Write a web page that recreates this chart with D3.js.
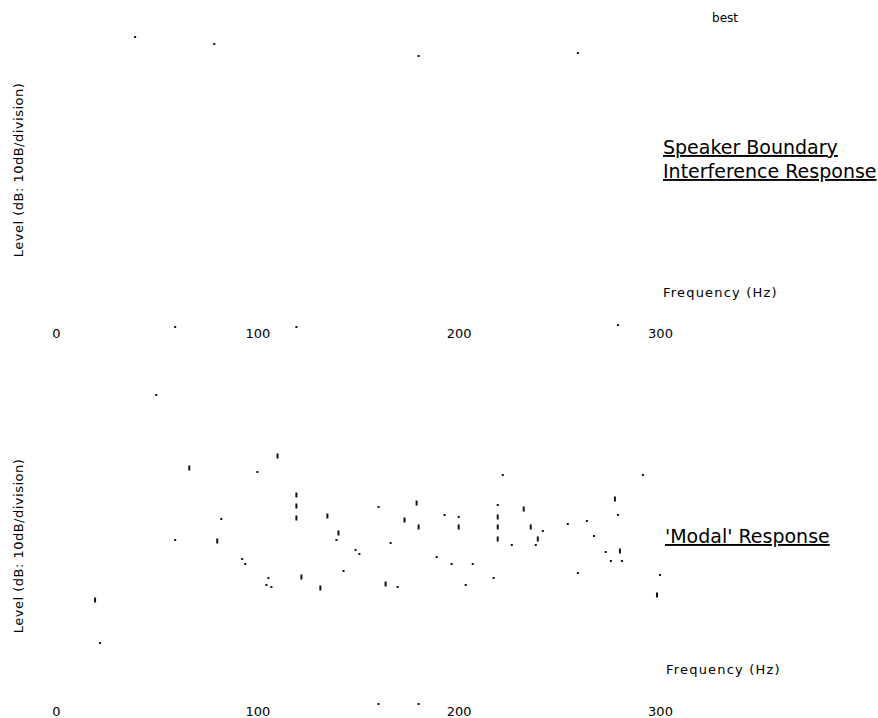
<!DOCTYPE html>
<html>
<head>
<meta charset="utf-8">
<script src="https://cdn.jsdelivr.net/npm/d3@7"></script>
<style>
  html, body { margin: 0; padding: 0; background: #fff; }
  svg { display: block; }
  text { font-family: "DejaVu Sans", Verdana, sans-serif; fill: #000; }
</style>
</head>
<body>
<svg id="chart" width="878" height="718"></svg>
<script>
// ---------- data ----------
const tickValues = [0, 100, 200, 300];
const tickLabels = ["0", "100", "200", "300"];

// Upper panel: Speaker Boundary Interference Response  [Hz, level dB]
const sbirDots = [
  [39.3, 60.6], [78.6, 59.2], [180.1, 56.8], [259.2, 57.4],
  [59.2, 2.6], [119.4, 2.6], [279.1, 3.0]
];

// Lower panel: 'Modal' Response  [Hz, level dB]
const modalDots = [
  [49.8, 63.0], [100.0, 47.6], [82.1, 38.2], [160.2, 40.6], [59.2, 34.0],
  [139.3, 34.0], [92.5, 30.2], [94.0, 29.2], [105.5, 26.4], [104.5, 25.0],
  [107.0, 24.6], [148.8, 32.0], [150.7, 31.2], [142.8, 27.8], [166.2, 33.4],
  [169.7, 24.6], [193.0, 39.0], [200.0, 38.6], [189.1, 30.6], [196.5, 29.2],
  [207.0, 29.2], [203.5, 25.0], [221.9, 47.0], [291.5, 47.0], [219.4, 41.0],
  [226.4, 33.0], [241.8, 35.8], [238.3, 33.0], [217.4, 26.4], [254.2, 37.2],
  [263.7, 37.8], [267.2, 34.8], [259.2, 27.4], [279.1, 39.0], [273.1, 31.6],
  [275.6, 29.8], [281.1, 29.8], [300.0, 27.0], [21.9, 13.4], [160.2, 1.2],
  [180.1, 1.2]
];
const modalDashes = [
  [66.2, 48.4], [110.0, 50.8], [119.4, 43.0], [119.4, 40.8], [119.4, 38.4],
  [134.8, 38.8], [140.3, 35.4], [179.1, 41.4], [173.1, 38.0], [180.1, 36.6],
  [80.1, 33.8], [121.9, 26.6], [131.3, 24.4], [163.7, 25.2], [200.0, 36.6],
  [219.4, 38.6], [219.4, 36.6], [219.4, 34.2], [232.3, 40.2], [235.8, 36.6],
  [239.3, 34.2], [277.6, 42.2], [280.1, 31.8], [298.5, 23.0], [19.4, 22.0]
];

const yLabel = "Level (dB: 10dB/division)";
const xLabel = "Frequency (Hz)";
const topTitle = ["Speaker Boundary", "Interference Response"];
const bottomTitle = "'Modal' Response";
const cornerNote = "best";

// ---------- drawing ----------
const svg = d3.select("#chart");

const x = d3.scaleLinear().domain([0, 300]).range([56, 660]);
const yTop = d3.scaleLinear().domain([0, 70]).range([340, -10]);
const yBot = d3.scaleLinear().domain([0, 70]).range([710, 360]);

function axis(yPos) {
  const g = svg.append("g").attr("transform", `translate(0,${yPos})`)
    .call(d3.axisBottom(x).tickValues(tickValues)
      .tickFormat((d, i) => tickLabels[i]).tickSize(0).tickPadding(0));
  g.select(".domain").remove();
  g.selectAll("text").attr("font-family", "DejaVu Sans, sans-serif")
    .attr("font-size", 13).attr("fill", "#000");
}
axis(329);
axis(707);

function dots(data, y) {
  svg.append("g").selectAll("rect").data(data).join("rect")
    .attr("x", d => x(d[0]) - 1).attr("y", d => y(d[1]) - 1)
    .attr("width", 2).attr("height", 2).attr("fill", "#111");
}
function dashes(data, y) {
  svg.append("g").selectAll("rect").data(data).join("rect")
    .attr("x", d => x(d[0]) - 1).attr("y", d => y(d[1]) - 2.5)
    .attr("width", 2).attr("height", 5).attr("fill", "#111");
}
dots(sbirDots, yTop);
dots(modalDots, yBot);
dashes(modalDashes, yBot);

// y labels
[[23, 170], [23, 546]].forEach(([tx, ty]) => {
  svg.append("text").attr("transform", `translate(${tx},${ty}) rotate(-90)`)
    .attr("text-anchor", "middle").attr("font-size", 13)
    .attr("letter-spacing", 0.5).text(yLabel);
});

// x labels
[[663, 297], [666, 674]].forEach(([tx, ty]) => {
  svg.append("text").attr("x", tx).attr("y", ty)
    .attr("font-size", 13).attr("letter-spacing", 1.2).text(xLabel);
});

// titles
svg.append("text").attr("x", 663).attr("y", 154).attr("font-size", 19)
  .attr("text-decoration", "underline").text(topTitle[0]);
svg.append("text").attr("x", 663).attr("y", 178).attr("font-size", 19)
  .attr("text-decoration", "underline").text(topTitle[1]);
svg.append("text").attr("x", 665).attr("y", 543).attr("font-size", 19)
  .attr("text-decoration", "underline").text(bottomTitle);

svg.append("text").attr("x", 725).attr("y", 22).attr("text-anchor", "middle")
  .attr("font-size", 12).text(cornerNote);
</script>
</body>
</html>
